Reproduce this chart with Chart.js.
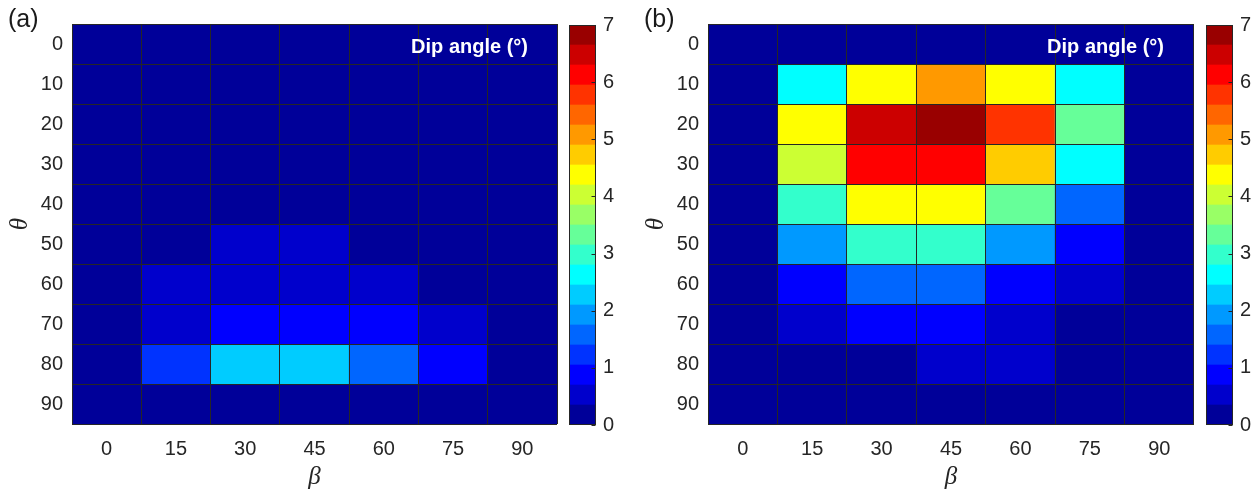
<!DOCTYPE html>
<html><head><meta charset="utf-8">
<script src="https://cdn.jsdelivr.net/npm/chart.js@4.4.0/dist/chart.umd.min.js"></script>
<style>
html,body{margin:0;padding:0;background:#fff;}
#wrap{position:relative;width:1257px;height:494px;overflow:hidden;background:#fff;}
canvas{position:absolute;top:0;}
.lbl{position:absolute;font-family:'Liberation Sans',Arial,sans-serif;color:#1a1a1a;font-size:25px;line-height:1;}
.dip{position:absolute;font-family:'Liberation Sans',Arial,sans-serif;color:#fff;font-weight:bold;font-size:20px;line-height:1;white-space:nowrap;}
</style></head><body>
<div id="wrap">
<canvas id="ha" width="562" height="494" style="left:0"></canvas>
<canvas id="ca" width="80" height="494" style="left:560px"></canvas>
<canvas id="hb" width="563" height="494" style="left:636px"></canvas>
<canvas id="cb" width="61" height="494" style="left:1196px"></canvas>
<div class="lbl" style="left:8px;top:6px">(a)</div>
<div class="lbl" style="left:644px;top:6px">(b)</div>
<div class="dip" style="right:729px;top:36px">Dip angle (°)</div>
<div class="dip" style="right:93px;top:36px">Dip angle (°)</div>
</div>
<script>
// ---- data ----
const betaLabels = ['0','15','30','45','60','75','90'];
const thetaValues = [0,10,20,30,40,50,60,70,80,90];
// dip angle (deg), rows = theta, columns = beta
const dipA = [
  [0.10,0.10,0.10,0.10,0.10,0.10,0.10],
  [0.10,0.10,0.10,0.10,0.10,0.10,0.10],
  [0.10,0.10,0.10,0.10,0.10,0.10,0.10],
  [0.10,0.10,0.10,0.10,0.10,0.10,0.10],
  [0.15,0.15,0.15,0.15,0.15,0.15,0.15],
  [0.20,0.30,0.45,0.50,0.30,0.20,0.15],
  [0.20,0.50,0.55,0.50,0.45,0.30,0.20],
  [0.20,0.60,0.90,0.95,0.85,0.60,0.25],
  [0.25,1.20,2.30,2.35,1.60,0.90,0.30],
  [0.10,0.10,0.10,0.10,0.10,0.10,0.10]
];
const dipB = [
  [0.10,0.10,0.10,0.10,0.10,0.10,0.10],
  [0.20,2.60,4.40,5.10,4.40,2.60,0.20],
  [0.20,4.30,6.50,6.90,5.80,3.30,0.20],
  [0.20,4.00,6.10,6.20,4.70,2.65,0.20],
  [0.20,2.95,4.35,4.40,3.30,1.55,0.20],
  [0.15,1.90,2.95,3.00,1.90,0.90,0.15],
  [0.15,0.90,1.55,1.60,0.85,0.50,0.15],
  [0.10,0.50,0.85,0.90,0.55,0.30,0.10],
  [0.10,0.30,0.30,0.40,0.45,0.20,0.10],
  [0.10,0.10,0.10,0.10,0.10,0.10,0.10]
];
const colorbarTicks = [0,1,2,3,4,5,6,7];
const colorbarMax = 7;
const levelColors = ['#000099','#0000CC','#0000FF','#0033FF','#0066FF','#0099FF','#00CCFF','#00FFFF',
  '#33FFCC','#66FF99','#99FF66','#CCFF33','#FFFF00','#FFCC00','#FF9900','#FF6600','#FF3300','#FF0000','#CC0000','#990000'];

// ---- helpers ----
const levelStep = colorbarMax / levelColors.length;
function colorFor(v){
  const i = Math.min(levelColors.length-1, Math.max(0, Math.floor(v/levelStep + 1e-9)));
  return levelColors[i];
}
Chart.defaults.font.family = "'Liberation Sans', Arial, sans-serif";
Chart.defaults.color = '#262626';
const INK = '#262626';
const TICK_SIZE = 20;

function makeHeat(id, values){
  const half = (thetaValues[1]-thetaValues[0])/2;
  const edges = thetaValues.map(t=>t-half).concat([thetaValues[thetaValues.length-1]+half]);
  const lo = edges[0], hi = edges[edges.length-1];
  return new Chart(document.getElementById(id), {
    type:'bar',
    data:{labels:betaLabels, datasets: thetaValues.map((t,i)=>({
      label:'theta '+t,
      data: betaLabels.map(()=>[t-half, t+half]),
      backgroundColor: values[i].map(colorFor),
      borderWidth:0, grouped:false, barPercentage:1, categoryPercentage:1, yAxisID:'y'
    }))},
    options:{
      responsive:false, animation:false,
      layout:{padding:{top:24,right:5,left:0,bottom:0}},
      plugins:{legend:{display:false}, tooltip:{enabled:false}},
      scales:{
        x:{type:'category', offset:true,
           grid:{offset:true, color:INK, lineWidth:1, drawTicks:false, z:1},
           border:{display:false},
           ticks:{padding:13, color:INK, font:{size:TICK_SIZE}},
           title:{display:true, text:'β', color:INK, font:{family:"'Liberation Serif', serif", style:'italic', size:25}, padding:{top:0,bottom:2}},
           afterFit:s=>{s.height=70;}},
        y:{type:'linear', reverse:true, min:lo, max:hi, position:'left',
           grid:{display:false, drawTicks:false}, border:{display:false},
           afterBuildTicks:s=>{s.ticks = thetaValues.map(v=>({value:v}));},
           ticks:{padding:9, color:INK, font:{size:TICK_SIZE}},
           title:{display:true, text:'θ', color:INK, font:{family:"'Liberation Serif', serif", style:'italic', size:25}, padding:{top:5,bottom:0}},
           afterFit:s=>{s.width=72;}},
        yg:{type:'linear', reverse:true, min:lo, max:hi, position:'left',
           grid:{color:INK, lineWidth:1, drawTicks:false, z:1}, border:{display:false},
           ticks:{display:false},
           afterBuildTicks:s=>{s.ticks = edges.map(v=>({value:v}));},
           afterFit:s=>{s.width=0;}}
      }
    }
  });
}

const cbFrame = {id:'cbFrame', afterDraw(chart){
  const {ctx, chartArea:a} = chart; const ys = chart.scales.y;
  ctx.save(); ctx.strokeStyle = INK; ctx.lineWidth = 1;
  const L = Math.round(a.left)+0.5, R = Math.round(a.right)-0.5, T = Math.round(a.top)+0.5, B = Math.round(a.bottom)-0.5;
  ctx.strokeRect(L, T, R-L, B-T);
  ctx.beginPath();
  ys.ticks.forEach(t=>{ const y = Math.round(ys.getPixelForValue(t.value))+0.5; ctx.moveTo(R-4,y); ctx.lineTo(R,y); });
  ctx.stroke(); ctx.restore();
}};

function makeBar(id, padLeft, axisWidth){
  return new Chart(document.getElementById(id), {
    type:'bar',
    data:{labels:[''], datasets: levelColors.map((c,i)=>({
      data:[[i*levelStep, (i+1)*levelStep]], backgroundColor:c, borderWidth:0,
      grouped:false, barPercentage:1, categoryPercentage:1
    }))},
    options:{
      responsive:false, animation:false,
      layout:{padding:{left:padLeft, top:25, bottom:69, right:0}},
      plugins:{legend:{display:false}, tooltip:{enabled:false}},
      scales:{
        x:{display:false, offset:true},
        y:{type:'linear', min:0, max:colorbarMax, position:'right',
           grid:{display:false, drawTicks:false}, border:{display:false},
           afterBuildTicks:s=>{s.ticks = colorbarTicks.map(v=>({value:v}));},
           ticks:{padding:7, color:INK, font:{size:TICK_SIZE}},
           afterFit:s=>{s.width=axisWidth;}}
      }
    },
    plugins:[cbFrame]
  });
}

makeHeat('ha', dipA);
makeHeat('hb', dipB);
makeBar('ca', 9, 44);
makeBar('cb', 10, 24);
</script>
</body></html>
